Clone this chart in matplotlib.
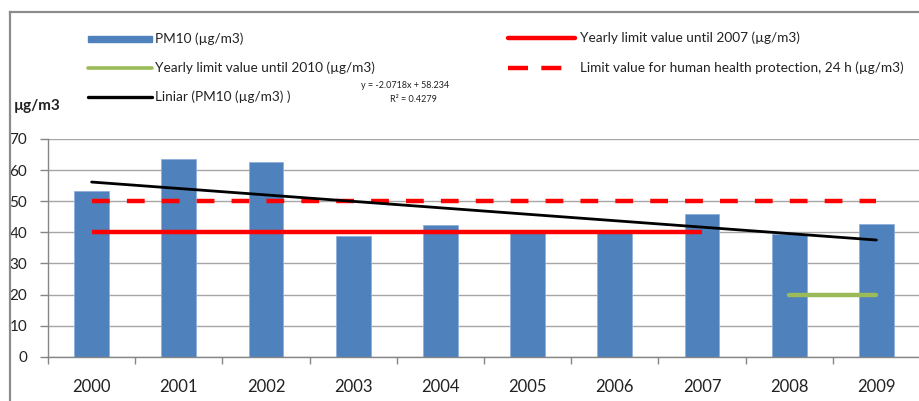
import numpy as np
import matplotlib
matplotlib.use("Agg")
import matplotlib.pyplot as plt
from matplotlib.lines import Line2D
from matplotlib.patches import Rectangle

plt.rcParams['font.family'] = ['Lato', 'DejaVu Sans']

# ---- data ----
years = ['2000', '2001', '2002', '2003', '2004', '2005', '2006', '2007', '2008', '2009']
pm10 = [53.3, 63.5, 62.7, 38.9, 42.3, 39.8, 39.9, 45.9, 39.6, 42.7]
limit_2007_value = 40
limit_2007_years = ['2000', '2001', '2002', '2003', '2004', '2005', '2006', '2007']
limit_2010_value = 20
limit_2010_years = ['2008', '2009']
limit_24h_value = 50
limit_24h_years = years
trend_slope = -2.0718
trend_intercept = 58.234
trend_r2 = 0.4279
y_ticks = [0, 10, 20, 30, 40, 50, 60, 70]

labels = ['PM10 (µg/m3)',
          'Yearly limit value until 2010 (µg/m3)',
          'Liniar (PM10 (µg/m3) )',
          'Yearly limit value until 2007 (µg/m3)',
          'Limit value for human health protection, 24 h (µg/m3)']

BLUE = '#4F81BD'
RED = '#FF0000'
GREEN = '#9BBB59'
GRID = '#A6A6A6'
AXC = '#868686'
TXT = '#222222'

W, H = 920, 401
fig = plt.figure(figsize=(W / 100, H / 100), dpi=100)

ax = fig.add_axes([48 / W, 1 - 356.7 / H, (W - 48) / W, (356.7 - 139) / H])

x = np.arange(len(years))
idx = {y: i for i, y in enumerate(years)}

ax.bar(x, pm10, width=0.4, color=BLUE, edgecolor='#8DB0DA', linewidth=0.6, zorder=2)

x07 = [idx[y] for y in limit_2007_years]
ax.plot(x07, [limit_2007_value] * len(x07), color=RED, lw=3.2, zorder=3, solid_capstyle='butt')

x10 = [idx[y] for y in limit_2010_years]
ax.plot(x10, [limit_2010_value] * len(x10), color=GREEN, lw=3.2, zorder=3, solid_capstyle='round')

x24 = [idx[y] for y in limit_24h_years]
ax.plot(x24, [limit_24h_value] * len(x24), color=RED, lw=3.2, zorder=3,
        dashes=(4.0, 3.85), dash_capstyle='butt')

xt = np.array([idx[y] for y in years])
ax.plot(xt, trend_slope * (xt + 1) + trend_intercept, color='black', lw=2.0, zorder=4,
        solid_capstyle='round')

ax.set_xlim(-0.5, len(years) - 0.5)
ax.set_ylim(0, 70)
ax.set_yticks(y_ticks)
ax.set_yticklabels([str(v) for v in y_ticks], fontsize=11, color=TXT)
ax.set_xticks(x)
ax.set_xticklabels(years, fontsize=12, color=TXT)
ax.set_xticks(np.arange(-0.5, len(years), 1), minor=True)
ax.tick_params(axis='x', which='major', length=0, pad=16)
ax.tick_params(axis='x', which='minor', length=5, color=AXC, width=1, direction='out')
ax.tick_params(axis='y', length=6, color=AXC, width=1, pad=9, direction='out')
ax.yaxis.grid(True, color=GRID, lw=1)
ax.set_axisbelow(True)
for s in ['top', 'right']:
    ax.spines[s].set_visible(False)
for s in ['left', 'bottom']:
    ax.spines[s].set_color(AXC)
    ax.spines[s].set_linewidth(1)

# outer chart frame
fig.add_artist(Line2D([10 / W, 1], [1 - 12 / H, 1 - 12 / H], color='#8C8C8C', lw=1.6))
fig.add_artist(Line2D([10 / W, 10 / W], [0, 1 - 12 / H], color='#8C8C8C', lw=1.6))

# legend (manual layout)
def fx(px):
    return px / W

def fy(py):
    return 1 - py / H

LFS = 9.8
fig.add_artist(Rectangle((fx(88), fy(42)), fx(152) - fx(88), 6 / H, color=BLUE))
fig.text(fx(155), fy(39), labels[0], fontsize=LFS, va='center', ha='left', color=TXT)
fig.add_artist(Line2D([fx(88), fx(152)], [fy(68), fy(68)], color=GREEN, lw=2.6, solid_capstyle='round'))
fig.text(fx(155), fy(68), labels[1], fontsize=LFS, va='center', ha='left', color=TXT)
fig.add_artist(Line2D([fx(88), fx(152)], [fy(97), fy(97)], color='black', lw=2.4, solid_capstyle='round'))
fig.text(fx(155), fy(97), labels[2], fontsize=LFS, va='center', ha='left', color=TXT)
fig.add_artist(Line2D([fx(508), fx(575)], [fy(38), fy(38)], color=RED, lw=3.2, solid_capstyle='round'))
fig.text(fx(580), fy(38), labels[3], fontsize=LFS, va='center', ha='left', color=TXT)
fig.add_artist(Line2D([fx(508), fx(562)], [fy(68), fy(68)], color=RED, lw=3.2,
                      dashes=(4.5, 3.0), dash_capstyle='butt'))
fig.text(fx(580), fy(68), labels[4], fontsize=LFS, va='center', ha='left', color=TXT)

fig.text(fx(405), fy(85), f'y = {trend_slope:.4f}x + {trend_intercept:.3f}', fontsize=6.5,
         ha='center', va='center', color=TXT)
fig.text(fx(413), fy(100), f'R² = {trend_r2:.4f}', fontsize=6.5, ha='center', va='center', color=TXT)

fig.text(fx(14), fy(106), 'µg/m3', fontsize=11, fontweight='bold', ha='left', va='center', color=TXT)

fig.savefig('out.png', dpi=100)
